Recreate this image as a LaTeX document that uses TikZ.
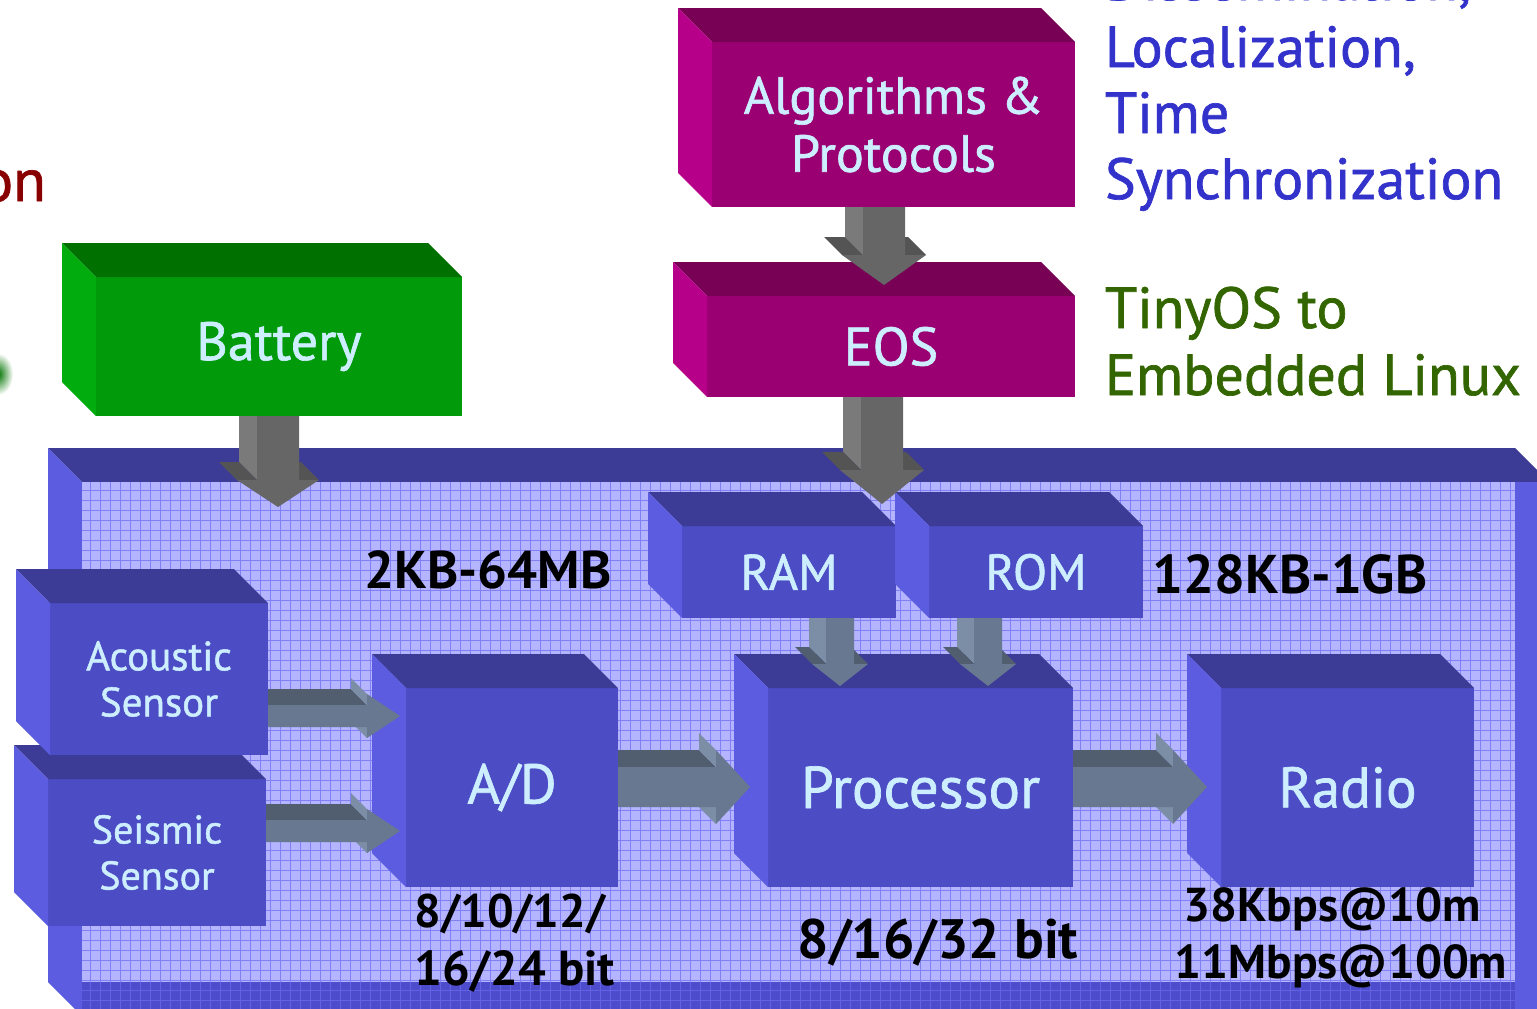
\documentclass[tikz,border=0pt]{standalone}
\usepackage{fontspec}
\setmainfont{PT Sans}
\newfontfamily\medfont[FakeBold=1.2]{PT Sans}
\usetikzlibrary{calc}
\definecolor{bfront}{RGB}{76,76,196}
\definecolor{btop}{RGB}{60,60,150}
\definecolor{bleft}{RGB}{92,92,224}
\definecolor{gfront}{RGB}{0,154,10}
\definecolor{gtop}{RGB}{0,112,0}
\definecolor{gleft}{RGB}{0,172,14}
\definecolor{mfront}{RGB}{155,0,115}
\definecolor{mtop}{RGB}{120,0,85}
\definecolor{mleft}{RGB}{182,0,138}
\definecolor{gridbg}{RGB}{180,180,255}
\definecolor{gridln}{RGB}{128,128,244}
\definecolor{bandbg}{RGB}{76,76,204}
\definecolor{bandln}{RGB}{98,98,226}
\definecolor{afront}{RGB}{102,102,102}
\definecolor{aleft}{RGB}{122,122,122}
\definecolor{atop}{RGB}{84,84,84}
\definecolor{sfront}{RGB}{104,120,144}
\definecolor{sleft}{RGB}{124,142,166}
\definecolor{stop}{RGB}{80,94,112}
\definecolor{lbl}{RGB}{204,238,255}
\definecolor{bluetxt}{RGB}{51,51,204}
\definecolor{greentxt}{RGB}{51,102,0}
\definecolor{redtxt}{RGB}{136,0,0}
\newcommand\ext{34}
% box geometry only (name, front top-left, width, height)
\newcommand\defbox[4]{\path node[boxshape, minimum width=#3pt, minimum height=#4pt] (#1) at #2 {};}
% paint faces and label (name, palette, label, font size, line pitch)
\newcommand\finbox[5]{%
  \fill[#2front] (#1.north west) rectangle (#1.south east);
  \fill[#2top] (#1.north west) -- ++(-\ext,-\ext) -- ($(#1.north east)+(-\ext,-\ext)$) -- (#1.north east) -- cycle;
  \fill[#2left] (#1.north west) -- ++(-\ext,-\ext) -- ($(#1.south west)+(-\ext,-\ext)$) -- (#1.south west) -- cycle;
  \node[boxlbl, font=\medfont\fontsize{#4}{#5}\selectfont] (#1l) at (#1.center) {#3};
}
% 3D down arrow: from, tip, half shaft, half head, head length, extrusion, palette
\newcommand\darr[7]{%
  \fill[#7left] let \p1=(#1),\p2=(#2) in (\x2-#3pt,\y1) -- (\x2-#3pt-#6pt,\y1+#6pt) -- (\x2-#3pt-#6pt,\y2+#5pt+#6pt) -- (\x2-#3pt,\y2+#5pt) -- cycle;
  \fill[#7top] let \p1=(#1),\p2=(#2) in (\x2-#4pt,\y2+#5pt) -- (\x2-#4pt-#6pt,\y2+#5pt+#6pt) -- (\x2-#3pt-#6pt,\y2+#5pt+#6pt) -- (\x2-#3pt,\y2+#5pt) -- cycle;
  \fill[#7top] let \p1=(#1),\p2=(#2) in (\x2+#3pt,\y2+#5pt) -- (\x2+#3pt-#6pt,\y2+#5pt+#6pt) -- (\x2+#4pt-#6pt,\y2+#5pt+#6pt) -- (\x2+#4pt,\y2+#5pt) -- cycle;
  \fill[#7front] let \p1=(#1),\p2=(#2) in (\x2-#3pt,\y1) -- (\x2-#3pt,\y2+#5pt) -- (\x2-#4pt,\y2+#5pt) -- (\x2,\y2) -- (\x2+#4pt,\y2+#5pt) -- (\x2+#3pt,\y2+#5pt) -- (\x2+#3pt,\y1) -- cycle;
}
% 3D right arrow: from, tip, half shaft, half head, head length, extrusion, palette
\newcommand\rarr[7]{%
  \fill[#7top] let \p1=(#1),\p2=(#2) in (\x1,\y2+#3pt) -- (\x1-#6pt,\y2+#3pt+#6pt) -- (\x2-#5pt-#6pt,\y2+#3pt+#6pt) -- (\x2-#5pt,\y2+#3pt) -- cycle;
  \fill[#7left] let \p1=(#1),\p2=(#2) in (\x2-#5pt,\y2+#3pt) -- (\x2-#5pt,\y2+#4pt) -- (\x2-#5pt-#6pt,\y2+#4pt+#6pt) -- (\x2-#5pt-#6pt,\y2+#3pt+#6pt) -- cycle;
  \fill[#7left] let \p1=(#1),\p2=(#2) in (\x2-#5pt,\y2-#4pt) -- (\x2-#5pt,\y2-#3pt) -- (\x2-#5pt-#6pt,\y2-#3pt+#6pt) -- (\x2-#5pt-#6pt,\y2-#4pt+#6pt) -- cycle;
  \fill[#7front] let \p1=(#1),\p2=(#2) in (\x1,\y2+#3pt) -- (\x2-#5pt,\y2+#3pt) -- (\x2-#5pt,\y2+#4pt) -- (\x2,\y2) -- (\x2-#5pt,\y2-#4pt) -- (\x2-#5pt,\y2-#3pt) -- (\x1,\y2-#3pt) -- cycle;
}
\begin{document}
\begin{tikzpicture}[x=1pt,y=-1pt,
  boxshape/.style={inner sep=0pt, outer sep=0pt, anchor=north west},
  boxlbl/.style={inner sep=0pt, outer sep=0pt, text=lbl, align=center},
  sidetxt/.style={inner sep=0pt, outer sep=0pt, anchor=base west, font=\medfont\fontsize{58}{58}\selectfont},
  numtxt/.style={inner sep=0pt, outer sep=0pt, anchor=base, text=black}]
\useasboundingbox (0,0) rectangle (1537,1009);
\clip (0,0) rectangle (1537,1009);

% side texts
\node[sidetxt, anchor=base east, text=redtxt, font=\medfont\fontsize{60}{60}\selectfont] (ttl) at (46,201) {tion};
\node[sidetxt, text=bluetxt] (s0) at (1105,0) {Dissemination,};
\node[sidetxt, text=bluetxt] (s1) at (1105,67) {Localization,};
\node[sidetxt, text=bluetxt] (s2) at (1105,133) {Time};
\node[sidetxt, text=bluetxt] (s3) at (1105,199) {Synchronization};
\node[sidetxt, text=greentxt] (os1) at (1105,328) {TinyOS to};
\node[sidetxt, text=greentxt] (os2) at (1105,395) {Embedded Linux};
\shade[inner color=green!45!black, outer color=white] (-2,374) ellipse (15 and 21);

% board
\fill[btop] (48,448) -- (1515,448) -- (1549,482) -- (82,482) -- cycle;
\fill[bleft] (48,448) -- (82,482) -- (82,1016) -- (48,982) -- cycle;
\fill[bleft] (1515,482) rectangle (1549,1016);
\fill[gridbg] (82,482) rectangle (1515,982);
\draw[gridln, line width=0.8pt, step=10pt] (82,482) grid (1515,982);
\fill[bandbg] (82,982) rectangle (1515,1016);
\draw[bandln, line width=0.8pt, step=10pt] (82,982) grid (1515,1016);

% radio / processor / A/D
\defbox{radio}{(1221,688)}{253}{199}
\finbox{radio}{b}{Radio}{57}{60}
\coordinate (radtip) at (1207,787);
\defbox{proc}{(768,688)}{305}{199}
\rarr{proc.east}{radtip}{20}{37}{34}{17}{s}
\finbox{proc}{b}{Processor}{59}{62}
\coordinate (proctip) at (750,787);
\defbox{ad}{(406,688)}{212}{199}
\rarr{ad.east}{proctip}{20}{37}{34}{17}{s}
\finbox{ad}{b}{A/D}{56}{60}

% sensors
\coordinate (adtip1) at (400,716);
\coordinate (adtip2) at (400,831);
\defbox{seis}{(48,779)}{218}{147}
\defbox{acou}{(50,603)}{218}{152}
\rarr{seis.east}{adtip2}{11}{22}{33}{16}{s}
\rarr{acou.east}{adtip1}{11}{22}{33}{16}{s}
\finbox{seis}{b}{Seismic\\Sensor}{40}{46}
\finbox{acou}{b}{Acoustic\\Sensor}{41}{46}

% memory
\coordinate (ramtip) at (840,686);
\coordinate (romtip) at (988,686);
\defbox{ram}{(682,526)}{214}{92}
\defbox{rom}{(929,526)}{214}{92}
\darr{ram.south}{ramtip}{14}{28}{22}{17}{s}
\darr{rom.south}{romtip}{14}{28}{22}{17}{s}
\finbox{ram}{b}{RAM}{50}{52}
\finbox{rom}{b}{ROM}{50}{52}

% OS and algorithms
\coordinate (eostip) at (882,504);
\defbox{eos}{(707,296)}{368}{101}
\darr{eos.south}{eostip}{21}{42}{34}{18}{a}
\finbox{eos}{m}{EOS}{54}{56}
\coordinate (algtip) at (884,285);
\defbox{alg}{(712,42)}{363}{165}
\darr{alg.south}{algtip}{21}{42}{30}{18}{a}
\finbox{alg}{m}{Algorithms \&\\Protocols}{52}{58}

% battery
\coordinate (battip) at (278,507);
\defbox{bat}{(96,277)}{366}{139}
\darr{bat.south}{battip}{21}{41}{27}{18}{a}
\finbox{bat}{g}{Battery}{54}{56}

% numbers
\node[numtxt, font=\bfseries\fontsize{53}{53}\selectfont] (m1) at (488,588) {2KB-64MB};
\node[numtxt, font=\bfseries\fontsize{54.5}{54.5}\selectfont] (m2) at (1290,593) {128KB-1GB};
\node[numtxt, font=\bfseries\fontsize{47}{47}\selectfont] (ab1) at (510,927) {8/10/12/};
\node[numtxt, font=\bfseries\fontsize{49}{49}\selectfont] (ab2) at (515,985) {16/24 bit};
\node[numtxt, font=\bfseries\fontsize{55.5}{55.5}\selectfont] (pb) at (938,958) {8/16/32 bit};
\node[numtxt, font=\bfseries\fontsize{47.5}{47.5}\selectfont] (rb1) at (1332,921) {38Kbps@10m};
\node[numtxt, font=\bfseries\fontsize{47.5}{47.5}\selectfont] (rb2) at (1341,978) {11Mbps@100m};
\end{tikzpicture}
\end{document}
